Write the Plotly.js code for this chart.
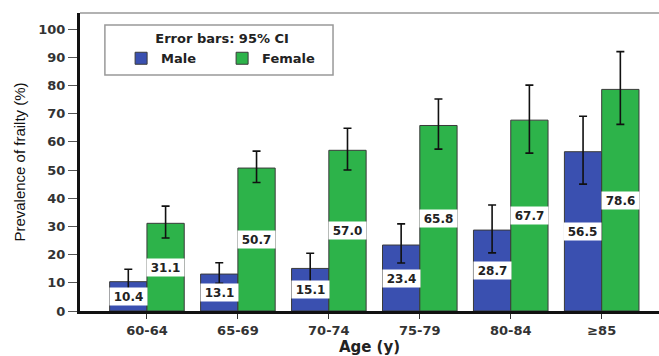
<!DOCTYPE html>
<html>
<head>
<meta charset="utf-8">
<script src="https://cdn.plot.ly/plotly-3.0.1.min.js"></script>
<style>html,body{margin:0;padding:0;background:#fff;}#chart{width:659px;height:356px;}</style>
</head>
<body>
<div id="chart"></div>
<script>
const ageGroups = ["60-64", "65-69", "70-74", "75-79", "80-84", "≥85"];
const maleValues = [10.4, 13.1, 15.1, 23.4, 28.7, 56.5];
const maleUpper = [14.8, 17.1, 20.5, 30.9, 37.6, 69.1];
const maleLower = [6.5, 9.8, 10.3, 17.0, 20.6, 45.0];
const femaleValues = [31.1, 50.7, 57.0, 65.8, 67.7, 78.6];
const femaleUpper = [37.2, 56.7, 64.8, 75.2, 80.1, 92.0];
const femaleLower = [25.9, 45.6, 50.0, 57.4, 56.0, 66.2];
const yTicks = [0, 10, 20, 30, 40, 50, 60, 70, 80, 90, 100];

const boldFam = "DejaVu Sans, Verdana, sans-serif";

const male = {
  type: "bar", name: "Male", x: ageGroups, y: maleValues,
  marker: {color: "#3a50b0", line: {color: "#3a3a3a", width: 1}},
  error_y: {type: "data", symmetric: false,
    array: maleUpper.map((u, i) => u - maleValues[i]),
    arrayminus: maleValues.map((v, i) => v - maleLower[i]),
    color: "#111", thickness: 1.6, width: 4}
};
const female = {
  type: "bar", name: "Female", x: ageGroups, y: femaleValues,
  marker: {color: "#2db34a", line: {color: "#3a3a3a", width: 1}},
  error_y: {type: "data", symmetric: false,
    array: femaleUpper.map((u, i) => u - femaleValues[i]),
    arrayminus: femaleValues.map((v, i) => v - femaleLower[i]),
    color: "#111", thickness: 1.6, width: 4}
};

const labelFont = {family: boldFam, size: 12, color: "#222", weight: "bold"};
const annotations = [];
ageGroups.forEach((g, i) => {
  annotations.push({x: g, y: maleValues[i] / 2, xref: "x", yref: "y", text: maleValues[i].toFixed(1),
    showarrow: false, xshift: -18.75, bgcolor: "#fff", width: 35, height: 15, font: labelFont});
  annotations.push({x: g, y: femaleValues[i] / 2, xref: "x", yref: "y", text: femaleValues[i].toFixed(1),
    showarrow: false, xshift: 18.75, bgcolor: "#fff", width: 35, height: 15, font: labelFont});
});

const layout = {
  width: 659, height: 356,
  margin: {l: 80, r: 0, t: 13, b: 45},
  paper_bgcolor: "#fff", plot_bgcolor: "#fff",
  barmode: "group", bargap: 0.18, bargroupgap: 0,
  font: {family: "Liberation Sans, Arial, sans-serif", color: "#333"},
  xaxis: {
    range: [-0.736, 5.63], showgrid: false, zeroline: false,
    showline: true, linecolor: "#111", linewidth: 3,
    ticks: "outside", ticklen: 5, tickcolor: "#333", tickwidth: 1,
    tickfont: {family: boldFam, size: 13, color: "#333", weight: "bold"},
    title: {text: "Age (y)", font: {family: boldFam, size: 15, color: "#222", weight: "bold"}, standoff: 2}
  },
  yaxis: {
    range: [0, 105.7], tickvals: yTicks, showgrid: false, zeroline: false,
    showline: true, linecolor: "#111", linewidth: 3,
    ticks: "outside", ticklen: 9, tickcolor: "#555", tickwidth: 1,
    tickfont: {family: boldFam, size: 13, color: "#333", weight: "bold"},
    title: {text: "Prevalence of frailty (%)", font: {family: "Liberation Sans Narrow, Arial Narrow, Liberation Sans, sans-serif", size: 15, color: "#111"}, standoff: 10}
  },
  showlegend: true,
  legend: {
    orientation: "h", x: 0.071, y: 0.955, xanchor: "left", yanchor: "top",
    bgcolor: "rgba(0,0,0,0)", borderwidth: 0,
    title: {text: "Error bars: 95% CI", side: "top center", font: {family: boldFam, size: 13, color: "#222", weight: "bold"}},
    font: {family: boldFam, size: 13, color: "#222", weight: "bold"},
    entrywidth: 56, itemwidth: 30, tracegroupgap: 0, traceorder: "normal"
  },
  shapes: [
    {type: "rect", xref: "paper", yref: "paper", x0: 0.043, x1: 0.437, y0: 0.792, y1: 0.96,
      line: {color: "#999", width: 1.5}, fillcolor: "rgba(0,0,0,0)"},
    {type: "line", xref: "paper", yref: "paper", x0: 0, x1: 1, y0: 1, y1: 1,
      line: {color: "#999", width: 1.5}}
  ],
  annotations: annotations
};

Plotly.newPlot("chart", [male, female], layout, {displayModeBar: false, staticPlot: true});
</script>
</body>
</html>
